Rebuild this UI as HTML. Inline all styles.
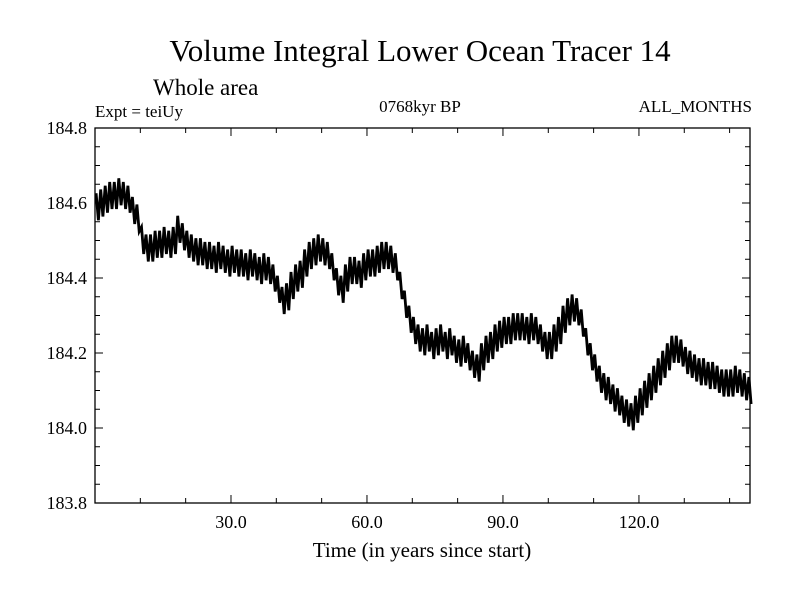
<!DOCTYPE html>
<html><head><meta charset="utf-8"><style>
body{margin:0;background:#fff}
svg text{font-family:"Liberation Serif",serif;fill:#000}
</style></head><body>
<svg width="800" height="600" viewBox="0 0 800 600">
<text x="420" y="61" font-size="31" text-anchor="middle">Volume Integral Lower Ocean Tracer 14</text>
<text x="153" y="95" font-size="23">Whole area</text>
<text x="95" y="117" font-size="17">Expt = teiUy</text>
<text x="420" y="112" font-size="17" text-anchor="middle">0768kyr BP</text>
<text x="752" y="112" font-size="17" text-anchor="end">ALL_MONTHS</text>
<g id="axes"></g>
<text x="422" y="557" font-size="21" text-anchor="middle">Time (in years since start)</text>
</svg>
<script>
const means=[184.59,184.60,184.61,184.62,184.62,184.63,184.62,184.61,184.58,184.56,
184.50,184.48,184.48,184.49,184.49,184.50,184.49,184.50,184.53,184.51,
184.49,184.48,184.47,184.47,184.46,184.46,184.45,184.46,184.45,184.44,
184.45,184.44,184.44,184.43,184.44,184.43,184.42,184.43,184.42,184.40,
184.37,184.34,184.35,184.38,184.40,184.41,184.44,184.46,184.47,184.48,
184.47,184.46,184.43,184.39,184.37,184.40,184.42,184.42,184.41,184.43,
184.44,184.44,184.45,184.46,184.46,184.45,184.43,184.38,184.33,184.29,
184.26,184.24,184.23,184.24,184.22,184.23,184.24,184.22,184.23,184.21,
184.20,184.21,184.19,184.17,184.16,184.19,184.21,184.22,184.24,184.25,
184.26,184.26,184.27,184.27,184.27,184.26,184.27,184.26,184.24,184.22,
184.22,184.24,184.26,184.29,184.31,184.32,184.31,184.28,184.23,184.19,
184.16,184.13,184.11,184.10,184.08,184.07,184.05,184.04,184.03,184.05,
184.07,184.09,184.11,184.13,184.15,184.17,184.19,184.21,184.21,184.20,
184.18,184.17,184.16,184.15,184.15,184.14,184.14,184.13,184.12,184.12,
184.12,184.13,184.12,184.11,184.10];
const seasonalHalfRange=[0.036];
const yTicks=[183.8,184.0,184.2,184.4,184.6,184.8];
const yTickLabels=["183.8","184.0","184.2","184.4","184.6","184.8"];
const xTicks=[30,60,90,120];
const xTickLabels=["30.0","60.0","90.0","120.0"];
const X0=95,X1=750,Y0=503,Y1=128,xmin=0,xmax=144.5,ymin=183.8,ymax=184.8;
const sx=v=>X0+(v-xmin)/(xmax-xmin)*(X1-X0);
const sy=v=>Y0-(v-ymin)/(ymax-ymin)*(Y0-Y1);
const NS="http://www.w3.org/2000/svg";
const g=document.getElementById('axes');
function mk(t,a){const e=document.createElementNS(NS,t);for(const k in a)e.setAttribute(k,a[k]);g.appendChild(e);return e;}
let pts=[];
means.forEach((m,i)=>{pts.push(sx(i+0.25).toFixed(1)+','+sy(m+seasonalHalfRange[0]).toFixed(1));pts.push(sx(i+0.75).toFixed(1)+','+sy(m-seasonalHalfRange[0]).toFixed(1));});
const line=mk('polyline',{points:pts.join(' '),fill:'none',stroke:'#000','stroke-width':2.8,'stroke-linejoin':'miter'});


const fr=mk('rect',{x:X0,y:Y1,width:X1-X0,height:Y0-Y1,fill:'none',stroke:'#000','stroke-width':1.3});


for(let v=ymin;v<=ymax+1e-9;v+=0.05){const y=sy(v);const maj=Math.abs((v-ymin)/0.2-Math.round((v-ymin)/0.2))<1e-6;const L=maj?8:5;
mk('line',{x1:X0,x2:X0+L,y1:y,y2:y,stroke:'#000'});mk('line',{x1:X1,x2:X1-L,y1:y,y2:y,stroke:'#000'});}
yTicks.forEach((v,i)=>{const t=mk('text',{x:X0-8,y:sy(v)+6,'font-size':18,'text-anchor':'end'});t.textContent=yTickLabels[i];

});
for(let v=10;v<xmax;v+=10){const x=sx(v);const L=(v%30===0)?8:5;
mk('line',{x1:x,x2:x,y1:Y0,y2:Y0-L,stroke:'#000'});mk('line',{x1:x,x2:x,y1:Y1,y2:Y1+L,stroke:'#000'});}
xTicks.forEach((v,i)=>{const t=mk('text',{x:sx(v),y:Y0+25,'font-size':18,'text-anchor':'middle'});t.textContent=xTickLabels[i];

});
</script>
</body></html>
